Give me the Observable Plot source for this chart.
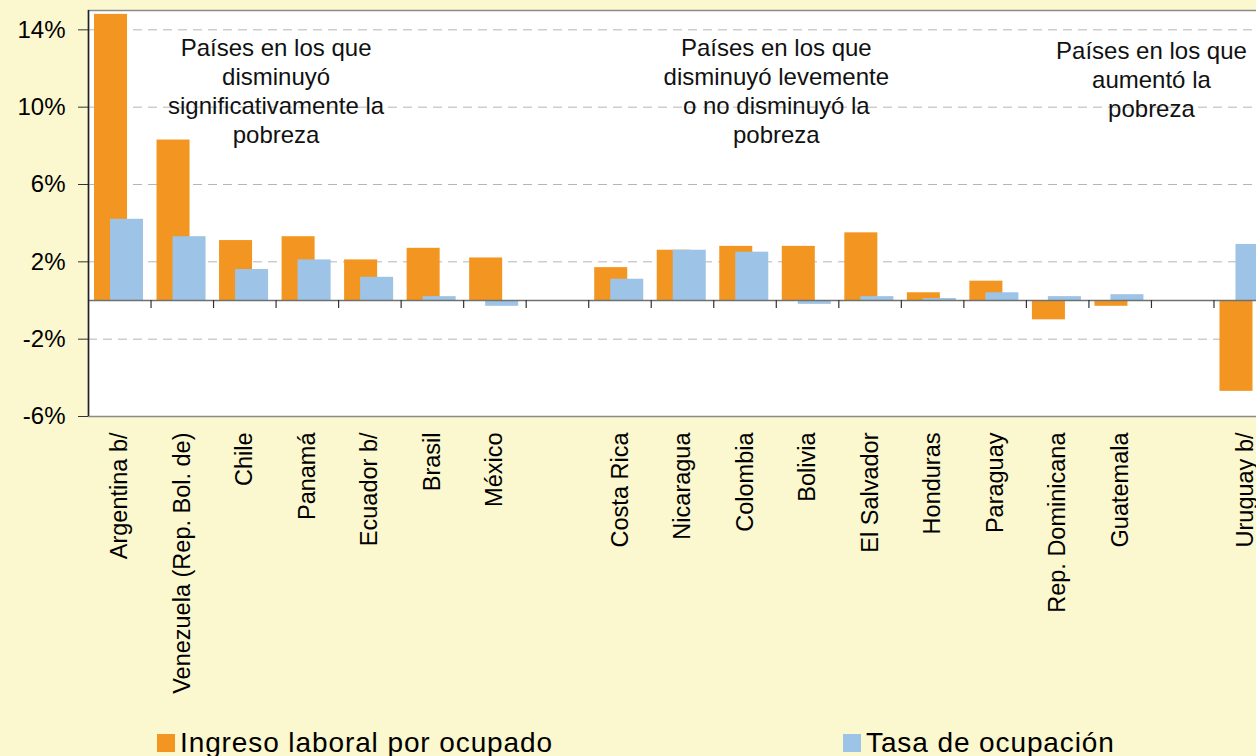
<!DOCTYPE html>
<html><head><meta charset="utf-8">
<script src="https://cdn.jsdelivr.net/npm/d3@7"></script>
<script src="https://cdn.jsdelivr.net/npm/@observablehq/plot@0.6"></script>
<style>
html,body{margin:0;padding:0;background:#FBF7CE;overflow:hidden;width:1256px;height:756px;position:relative;}
#chart{position:absolute;left:0;top:0;width:1276px;}
#chart svg{max-width:none !important;width:1276px;height:720px;}
#legend{position:absolute;left:0;top:728px;width:1256px;height:30px;font-family:"Liberation Sans",Arial,sans-serif;font-size:28px;color:#000;}
.item{position:absolute;top:0;display:flex;align-items:center;height:30px;letter-spacing:0.9px;}
.sw{width:18px;height:18px;margin-right:5px;}
</style></head><body>
<div id="chart"></div>
<div id="legend"></div>
<script>
const countries = ["Argentina b/", "Venezuela (Rep. Bol. de)", "Chile", "Panamá", "Ecuador b/", "Brasil", "México", " ", "Costa Rica", "Nicaragua", "Colombia", "Bolivia", "El Salvador", "Honduras", "Paraguay", "Rep. Dominicana", "Guatemala", "  ", "Uruguay b/"];
const ingreso = [14.8, 8.3, 3.1, 3.3, 2.1, 2.7, 2.2, null, 1.7, 2.6, 2.8, 2.8, 3.5, 0.4, 1.0, -1.0, -0.3, null, -4.7];
const ocupacion = [4.2, 3.3, 1.6, 2.1, 1.2, 0.2, -0.3, null, 1.1, 2.6, 2.5, -0.2, 0.2, 0.1, 0.4, 0.2, 0.3, null, 2.9];
const seriesNames = ["Ingreso laboral por ocupado", "Tasa de ocupación"];
const seriesColors = ["#F39621", "#9DC3E6"];
const yTicks = [14, 10, 6, 2, -2, -6];
const groupLabelsA = [
  {x: "Chile", t: "Países en los que\ndisminuyó\nsignificativamente la\npobreza"},
  {x: "Colombia", t: "Países en los que\ndisminuyó levemente\no no disminuyó la\npobreza"}
];
const groupLabelsB = [
  {x: "Guatemala", t: "Países en los que\naumentó la\npobreza"}
];

const rows = countries.map((c, i) => ({c, ing: ingreso[i], ocu: ocupacion[i]}));
const half = (1276 - 88) / countries.length / 2;
const textOpts = {x: "x", text: "t", frameAnchor: "top", lineAnchor: "top", fontSize: 24, lineHeight: 1.21, fill: "#111"};

const chart = Plot.plot({
  width: 1276, height: 720,
  marginLeft: 88, marginRight: 0, marginTop: 10, marginBottom: 304,
  style: {background: "transparent", fontFamily: "'Liberation Sans', Arial, sans-serif", color: "#000", maxWidth: "none"},
  x: {domain: countries, padding: 0, round: false},
  y: {domain: [-6, 15]},
  marks: [
    Plot.frame({fill: "white", stroke: null}),
    Plot.gridY(yTicks, {stroke: "#b5b5b5", strokeOpacity: 1, strokeDasharray: "9,6", strokeWidth: 1}),
    Plot.barY(rows.filter(d => d.ing != null), {x: "c", y: "ing", fill: seriesColors[0], insetLeft: 6, insetRight: 23.5}),
    Plot.barY(rows.filter(d => d.ocu != null), {x: "c", y: "ocu", fill: seriesColors[1], insetLeft: 22, insetRight: 7.5}),
    Plot.ruleY([0], {stroke: "#707070", strokeWidth: 1.5}),
    Plot.ruleX(countries.slice(1), {x: d => d, dx: -half, y1: 0, y2: 0, insetBottom: -8, stroke: "#333", strokeWidth: 1.2}),
    Plot.frame({stroke: "#8a8a8a", strokeWidth: 1.5}),
    Plot.ruleX([countries[0]], {x: d => d, dx: -half, y1: -6, y2: 15, stroke: "#222", strokeWidth: 1.5}),
    Plot.axisY(yTicks, {tickFormat: d => d + "%", fontSize: 24, tickSize: 10, tickPadding: 13, label: null, stroke: "#333"}),
    Plot.axisX({tickRotate: -90, tickSize: 0, tickPadding: 16, fontSize: 23.5, tickFormat: d => d.trim(), label: null}),
    Plot.text(groupLabelsA, {...textOpts, dx: half, dy: 25}),
    Plot.text(groupLabelsB, {...textOpts, dx: half, dy: 28})
  ]
});
document.getElementById("chart").appendChild(chart);

const legend = document.getElementById("legend");
const legendX = [157, 843];
seriesNames.forEach((n, i) => {
  const it = document.createElement("div");
  it.className = "item";
  it.style.left = legendX[i] + "px";
  it.innerHTML = `<span class="sw" style="background:${seriesColors[i]}"></span><span>${n}</span>`;
  legend.appendChild(it);
});
</script>
</body></html>
